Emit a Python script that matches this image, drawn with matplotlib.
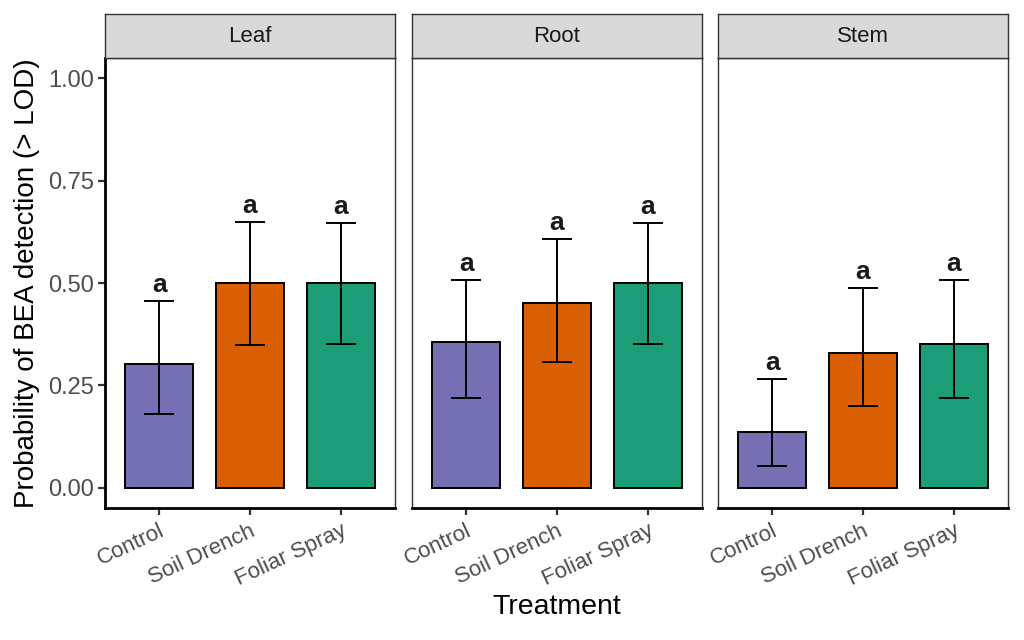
import matplotlib as mpl
mpl.use('Agg')
import matplotlib.pyplot as plt

tissues = ['Leaf', 'Root', 'Stem']
treatments = ['Control', 'Soil Drench', 'Foliar Spray']
colors = ['#7570B3', '#D95F02', '#1B9E77']

prob = {'Leaf': [0.303, 0.500, 0.501],
        'Root': [0.355, 0.452, 0.500],
        'Stem': [0.135, 0.330, 0.352]}
lower = {'Leaf': [0.180, 0.348, 0.350],
         'Root': [0.220, 0.306, 0.352],
         'Stem': [0.052, 0.199, 0.220]}
upper = {'Leaf': [0.455, 0.648, 0.646],
         'Root': [0.507, 0.607, 0.646],
         'Stem': [0.265, 0.487, 0.507]}
letters = ['a', 'a', 'a']

W, H = 1024, 640
fig = plt.figure(figsize=(W / 100, H / 100), dpi=100)
plt.rcParams['font.family'] = ['Liberation Sans', 'DejaVu Sans']

panel_x = [105, 412, 718]
panel_w = 290
top, bottom = 58, 508
strip_top = 14
grey_txt = '#4D4D4D'

for i, tissue in enumerate(tissues):
    x0 = panel_x[i]
    ax = fig.add_axes([x0 / W, 1 - bottom / H, panel_w / W, (bottom - top) / H])
    pos = list(range(1, len(treatments) + 1))
    ax.bar(pos, prob[tissue], width=0.75, color=colors, edgecolor='black',
           linewidth=1.4, zorder=2)
    for p, v, lo, hi in zip(pos, prob[tissue], lower[tissue], upper[tissue]):
        ax.errorbar(p, v, yerr=[[v - lo], [hi - v]], fmt='none', ecolor='black',
                    elinewidth=1.4, capsize=11, capthick=1.4, zorder=3)
    for p, hi, lab in zip(pos, upper[tissue], letters):
        ax.text(p, hi + 0.01, lab, ha='center', va='bottom', fontsize=19,
                fontweight='bold', color='#1a1a1a')
    ax.set_xlim(0.4, 3.6)
    ax.set_ylim(-0.05, 1.05)
    ax.set_xticks(pos)
    ax.set_xticklabels(treatments, rotation=25, ha='right', rotation_mode='anchor',
                       fontsize=16, color=grey_txt)
    for sp in ax.spines.values():
        sp.set_color('#333333')
        sp.set_linewidth(1.0)
    ax.spines['bottom'].set_color('black')
    ax.spines['bottom'].set_linewidth(2.0)
    ax.tick_params(axis='x', length=5, width=1.6, color='#333333', pad=4)
    if i == 0:
        ax.set_yticks([0, 0.25, 0.5, 0.75, 1.0])
        ax.set_yticklabels(['0.00', '0.25', '0.50', '0.75', '1.00'],
                           fontsize=17, color=grey_txt)
        ax.tick_params(axis='y', length=5, width=1.6, color='#333333', pad=3)
        ax.spines['left'].set_color('black')
        ax.spines['left'].set_linewidth(2.0)
        ax.set_ylabel('Probability of BEA detection (> LOD)', fontsize=20,
                      color='black', labelpad=6)
    else:
        ax.set_yticks([])

    # facet strip
    sax = fig.add_axes([x0 / W, 1 - top / H, panel_w / W, (top - strip_top) / H])
    sax.set_xticks([])
    sax.set_yticks([])
    sax.set_facecolor('#D9D9D9')
    for sp in sax.spines.values():
        sp.set_color('#333333')
        sp.set_linewidth(1.0)
    sax.text(0.5, 0.5, tissue, ha='center', va='center', fontsize=16,
             color='#1a1a1a', transform=sax.transAxes)

fig.text((105 + 1008) / 2 / W, 1 - 607 / H, 'Treatment', ha='center', va='center',
         fontsize=20.5)

fig.savefig('out.png', dpi=100)
